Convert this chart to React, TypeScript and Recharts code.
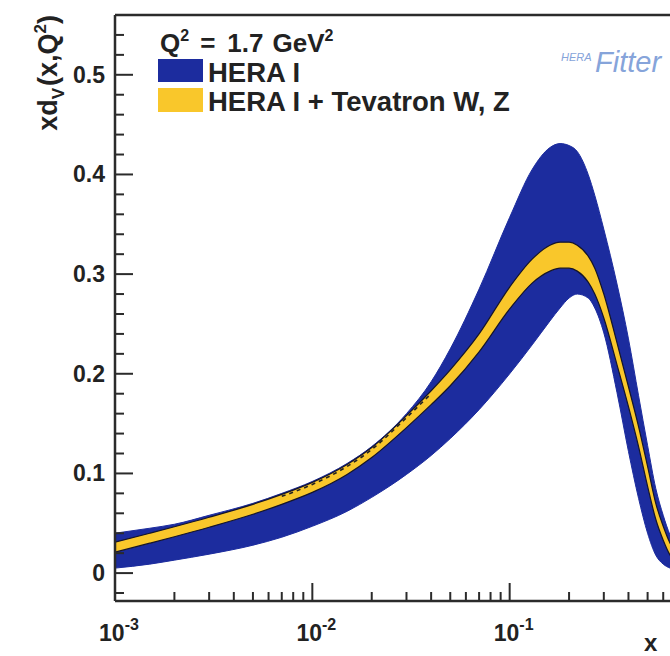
import { Area, ComposedChart, Line, ReferenceLine, XAxis, YAxis } from "recharts";

// xd_V(x, Q^2) at Q^2 = 1.7 GeV^2 — HERA I band vs HERA I + Tevatron W, Z band (HERAFitter style).
const X = [
  0.001, 0.0015, 0.002, 0.003, 0.005, 0.007, 0.01, 0.015, 0.02, 0.03, 0.04, 0.05, 0.07, 0.1, 0.13,
  0.16, 0.18, 0.2, 0.22, 0.25, 0.27, 0.3, 0.35, 0.4, 0.45, 0.5, 0.55, 0.6, 0.65, 0.7, 0.8, 0.9, 1.0,
];
const HERA_LO = [
  0.005, 0.009, 0.013, 0.019, 0.028, 0.036, 0.047, 0.062, 0.076, 0.099, 0.118, 0.135, 0.164, 0.2, 0.229,
  0.253, 0.266, 0.276, 0.28, 0.276, 0.266, 0.241, 0.181, 0.122, 0.075, 0.04, 0.018, 0.009, 0.005, 0.003, 0.001, 0, 0,
];
const HERA_HI = [
  0.04, 0.045, 0.049, 0.058, 0.07, 0.08, 0.092, 0.11, 0.127, 0.16, 0.192, 0.225, 0.285, 0.357, 0.405,
  0.427, 0.431, 0.429, 0.423, 0.4, 0.379, 0.345, 0.29, 0.235, 0.178, 0.128, 0.085, 0.058, 0.038, 0.024, 0.009, 0.002, 0,
];
const TEV_LO = [
  0.021, 0.03, 0.0365, 0.046, 0.059, 0.069, 0.081, 0.099, 0.116, 0.146, 0.169, 0.188, 0.222, 0.265, 0.291,
  0.303, 0.306, 0.306, 0.303, 0.292, 0.28, 0.256, 0.209, 0.167, 0.127, 0.087, 0.054, 0.033, 0.018, 0.01, 0.003, 0, 0,
];
const TEV_HI = [
  0.031, 0.04, 0.0465, 0.056, 0.069, 0.079, 0.091, 0.109, 0.126, 0.158, 0.183, 0.204, 0.24, 0.287, 0.315,
  0.329, 0.332, 0.332, 0.329, 0.318, 0.306, 0.28, 0.231, 0.187, 0.147, 0.107, 0.07, 0.047, 0.03, 0.02, 0.007, 0.002, 0,
];
// dashed central line, only where it shows along the top edge of the yellow band
const HERA_CENTRAL = [
  null, null, null, null, null, 0.077, 0.089, 0.107, 0.124, 0.156, 0.18, null, null, null, null,
  null, null, null, null, null, null, null, null, null, null, null, null, null, null, null, null, null, null,
];

const Y_MAJOR = [0, 0.1, 0.2, 0.3, 0.4, 0.5];
const Y_LABELS = ["0", "0.1", "0.2", "0.3", "0.4", "0.5"];
const Y_MINOR = [
  -0.02, 0.02, 0.04, 0.06, 0.08, 0.12, 0.14, 0.16, 0.18, 0.22, 0.24, 0.26, 0.28, 0.32, 0.34, 0.36, 0.38,
  0.42, 0.44, 0.46, 0.48, 0.52, 0.54,
];
const X_MAJOR = [0.001, 0.01, 0.1];
const X_EXP = ["-3", "-2", "-1"];
const X_MINOR = [
  0.002, 0.003, 0.004, 0.005, 0.006, 0.007, 0.008, 0.009, 0.02, 0.03, 0.04, 0.05, 0.06, 0.07, 0.08, 0.09,
  0.2, 0.3, 0.4, 0.5, 0.6, 0.7, 0.8, 0.9,
];

const Y_MIN = -0.028;
const Y_MAX = 0.56;

const BLUE = "#1c2c9e";
const YELLOW = "#f9c72b";
const INK = "#2b2b2b";
const FONT = "'Liberation Sans', Arial, Helvetica, sans-serif";

const W = 760;
const H = 656;
const M = { top: 15, right: 53, bottom: 0, left: 0 };
const Y_AXIS_W = 115;
const X_AXIS_H = 55;
const PL = M.left + Y_AXIS_W;
const PB = H - M.bottom - X_AXIS_H;

const rows = X.map((x, i) => ({
  x,
  hera: [HERA_LO[i], HERA_HI[i]],
  tev: [TEV_LO[i], TEV_HI[i]],
  central: HERA_CENTRAL[i],
}));

function near(a: number, list: number[]) {
  return list.findIndex((v) => Math.abs(v - a) < 1e-9);
}

function YTick(props: any) {
  const { y, payload } = props;
  const idx = near(payload.value, Y_MAJOR);
  const len = idx >= 0 ? 18 : 9;
  return (
    <g>
      <line x1={PL} x2={PL + len} y1={y} y2={y} stroke={INK} strokeWidth={2} />
      {idx >= 0 && (
        <text
          x={105}
          y={y}
          dy={8}
          textAnchor="end"
          fontFamily={FONT}
          fontWeight="bold"
          fontSize={23}
          fill="#222"
        >
          {Y_LABELS[idx]}
        </text>
      )}
    </g>
  );
}

function XTick(props: any) {
  const { x, payload } = props;
  const idx = near(payload.value, X_MAJOR);
  const len = idx >= 0 ? 18 : 9;
  return (
    <g>
      <line x1={x} x2={x} y1={PB} y2={PB - len} stroke={INK} strokeWidth={2} />
      {idx >= 0 && (
        <text x={x + 4} y={641} textAnchor="middle" fontFamily={FONT} fontWeight="bold" fontSize={23} fill="#222">
          10
          <tspan dy={-11} fontSize={16}>
            {X_EXP[idx]}
          </tspan>
        </text>
      )}
    </g>
  );
}

export default function App() {
  const yTicks = [...Y_MINOR, ...Y_MAJOR].sort((a, b) => a - b);
  const xTicks = [...X_MINOR, ...X_MAJOR].sort((a, b) => a - b);
  return (
    <div
      style={{
        position: "fixed",
        left: 0,
        top: 0,
        width: 670,
        height: 656,
        overflow: "hidden",
        background: "#fff",
      }}
    >
      <ComposedChart width={W} height={H} data={rows} margin={M}>
        <XAxis
          dataKey="x"
          type="number"
          scale="log"
          domain={[0.001, 1]}
          allowDataOverflow
          ticks={xTicks}
          interval={0}
          height={X_AXIS_H}
          tickLine={false}
          axisLine={{ stroke: INK, strokeWidth: 2.5 }}
          tick={<XTick />}
        />
        <YAxis
          type="number"
          domain={[Y_MIN, Y_MAX]}
          allowDataOverflow
          ticks={yTicks}
          interval={0}
          width={Y_AXIS_W}
          tickLine={false}
          axisLine={{ stroke: INK, strokeWidth: 2.5 }}
          tick={<YTick />}
        />
        <Area
          dataKey="hera"
          type="monotone"
          fill={BLUE}
          fillOpacity={1}
          stroke={BLUE}
          strokeWidth={1}
          isAnimationActive={false}
        />
        <Area
          dataKey="tev"
          type="monotone"
          fill={YELLOW}
          fillOpacity={1}
          stroke="#15152a"
          strokeWidth={1.2}
          isAnimationActive={false}
        />
        <Line
          dataKey="central"
          type="monotone"
          stroke="#222"
          strokeWidth={1.6}
          strokeDasharray="4 4"
          dot={false}
          connectNulls={false}
          isAnimationActive={false}
        />
        <ReferenceLine y={Y_MAX} stroke={INK} strokeWidth={2.5} />
        <ReferenceLine x={1} stroke={INK} strokeWidth={2.5} />
      </ComposedChart>

      <svg
        width={670}
        height={656}
        style={{ position: "absolute", left: 0, top: 0, pointerEvents: "none" }}
        fontFamily={FONT}
      >
        {/* y-axis title */}
        <text
          transform="translate(57, 15) rotate(-90)"
          textAnchor="end"
          fontWeight="bold"
          fontSize={27}
          fill="#222"
        >
          xd
          <tspan dy={7} fontSize={17}>
            V
          </tspan>
          <tspan dy={-7} dx={2}>
            (x,Q
          </tspan>
          <tspan dy={-11} fontSize={17}>
            2
          </tspan>
          <tspan dy={11}>)</tspan>
        </text>
        {/* x-axis title */}
        <text x={644} y={651} fontWeight="bold" fontSize={24} fill="#222">
          x
        </text>

        {/* legend */}
        <text x={160} y={52} fontWeight="bold" fontSize={26} fill="#222">
          Q
          <tspan dy={-11} fontSize={16}>
            2
          </tspan>
          <tspan dy={11} dx={11}>
            =
          </tspan>
          <tspan dx={12}>1.7</tspan>
          <tspan dx={9}>GeV</tspan>
          <tspan dy={-11} fontSize={16}>
            2
          </tspan>
        </text>
        <rect x={158} y={59} width={45} height={23} fill={BLUE} />
        <text x={208} y={82} fontWeight="bold" fontSize={27.5} fill="#222">
          HERA I
        </text>
        <rect x={158} y={88} width={45} height={24} fill={YELLOW} />
        <text x={208} y={111} fontWeight="bold" fontSize={27.5} fill="#222">
          HERA I + Tevatron W, Z
        </text>

        {/* HERAFitter logo */}
        <text x={561} y={61} fontStyle="italic" fontSize={11} fill="#86a4da">
          HERA
        </text>
        <text x={595} y={72} fontStyle="italic" fontSize={29} fill="#86a4da">
          Fitter
        </text>
      </svg>
    </div>
  );
}
